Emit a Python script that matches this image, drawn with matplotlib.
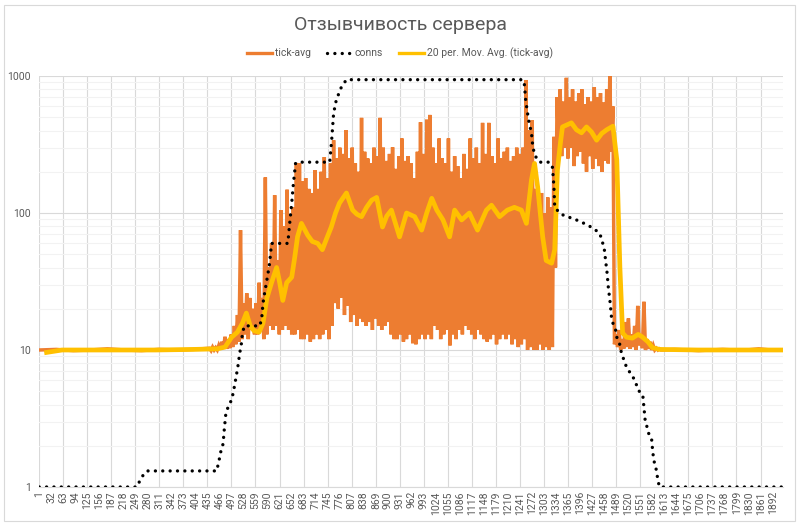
import numpy as np
import matplotlib
matplotlib.use("Agg")
import matplotlib.pyplot as plt
from matplotlib.ticker import FixedLocator, LogLocator, NullFormatter
from matplotlib.lines import Line2D
from matplotlib.patches import Rectangle

plt.rcParams['font.family'] = ['Roboto', 'DejaVu Sans']

# ---------------- data ----------------
n_points = 1918
title = "Отзывчивость сервера"
series_names = ["tick-avg", "conns", "20 per. Mov. Avg. (tick-avg)"]

# tick-avg: quiet part before the load (every 44 samples from 1)
tick_pre = [10.0, 10.1, 9.9, 10.0, 10.2, 10.0, 9.9, 10.1, 10.0, 10.1]
# tick-avg under load: peaks (every 8 samples from 440) and troughs (4 samples later)
tick_hi = [10.3, 10.5, 10.4, 10.8, 11.5,
           12.5, 12, 13, 15, 18,
           75, 22, 26, 24, 20,
           22, 31, 24, 182, 40,
           60, 135, 45, 105, 80,
           148, 95, 110, 232, 230,
           170, 180, 150, 140, 205,
           150, 200, 256, 180, 230,
           340, 250, 300, 270, 403,
           250, 300, 230, 200, 495,
           280, 250, 230, 300, 260,
           495, 300, 240, 270, 302,
           210, 260, 350, 240, 260,
           230, 180, 280, 460, 270,
           480, 520, 300, 230, 350,
           250, 230, 350, 200, 260,
           220, 180, 270, 210, 350,
           250, 300, 230, 455, 270,
           455, 260, 230, 350, 250,
           280, 300, 240, 260, 300,
           270, 300, 935, 400, 475,
           150, 120, 140, 100, 130,
           110, 360, 700, 800, 650,
           970, 700, 800, 650, 750,
           800, 620, 700, 650, 830,
           700, 750, 640, 800, 1000,
           600, 13, 14, 12, 16,
           17, 13, 15, 21, 13,
           22.5, 12, 11.5, 10.8, 10.3,
           10.2]
tick_lo = [9.9, 10.0, 10.0, 10.1, 10.2,
           10.2, 10.3, 10.5, 11, 11.5,
           12, 13, 12, 14, 13,
           13, 14, 12, 13, 15,
           14, 15, 13, 14, 15,
           14, 13, 13, 14, 12,
           12, 13, 11.5, 12, 13,
           12, 13, 14, 12, 15,
           22, 20, 24, 18, 21,
           16, 18, 15, 17, 16,
           15, 16, 14, 17, 15,
           14, 15, 16, 13, 12,
           12, 13, 11.5, 12, 13,
           11.2, 11, 12, 13, 12,
           13, 12, 15, 14, 12,
           13, 14, 10.8, 13, 12,
           14, 13, 15, 14, 13,
           12, 14, 13, 12, 11.5,
           12, 13, 11, 12, 13,
           12, 13, 11, 12, 10.5,
           11, 12, 10, 10.5, 10,
           10, 11, 10, 10.5, 10,
           10.5, 40, 300, 260, 300,
           250, 300, 220, 260, 280,
           230, 200, 260, 210, 250,
           220, 200, 240, 230, 280,
           11, 10.5, 10, 10.2, 10.5,
           10.2, 10.5, 10, 10.8, 10.3,
           10, 10.2, 10, 10, 10,
           10]
# tick-avg after the load (every 31 samples from 1608)
tick_post = [10.0, 10.1, 10.0, 9.9, 10.0, 10.1, 10.0, 10.0, 10.2, 10.0, 10.0]

# conns: sample number and value
conns_idx = [1, 253, 261, 269, 279, 459, 462, 466, 470, 475, 478, 482, 490, 497, 502,
             507, 513, 518, 522, 525, 530, 570, 575, 578, 583, 590, 595, 600, 642,
             646, 652, 656, 662, 672, 750, 755, 760, 767, 780, 793, 1248, 1252, 1255,
             1260, 1264, 1270, 1273, 1278, 1291, 1317, 1324, 1326, 1328, 1329, 1330,
             1343, 1356, 1373, 1399, 1412, 1428, 1446, 1452, 1458, 1462, 1465, 1468,
             1473, 1477, 1487, 1490, 1497, 1502, 1515, 1537, 1545, 1557, 1563, 1575,
             1580, 1583, 1587, 1592, 1596, 1600, 1918]
conns_val = [1, 1, 1.12, 1.22, 1.31, 1.31, 1.45, 1.63, 1.86, 2.06, 2.6, 3.4, 4.0, 4.3, 5.0,
             6.0, 7.5, 9.5, 11, 13.3, 15, 15, 17.5, 22, 27, 35, 43, 60, 60,
             80, 118, 160, 232, 235, 235, 340, 535, 670, 830, 940, 940, 860, 670,
             535, 455, 385, 315, 265, 235, 235, 216, 185, 155, 130, 110,
             100, 95, 92, 86, 82, 78, 71, 63, 54, 43, 36.5, 29,
             22, 16.5, 14, 12.4, 11.2, 9.5, 7.5, 6, 5.1, 4.7, 3.1, 2.3,
             2.2, 1.77, 1.5, 1.33, 1.12, 1, 1]

# 20-period moving average of tick-avg
ma_idx = [20, 40, 60, 100, 200, 300, 400, 460, 480, 497, 512, 525, 535, 545, 555, 568,
          578, 588, 600, 613, 621, 629, 639, 652, 660, 667, 677, 693, 705, 719, 731,
          742, 754, 765, 775, 793, 809, 820, 832, 845, 858, 871, 886, 897, 909, 930,
          948, 969, 987, 1000, 1013, 1026, 1042, 1059, 1072, 1090, 1110, 1131, 1154,
          1167, 1188, 1208, 1226, 1244, 1257, 1270, 1278, 1286, 1299, 1308, 1322,
          1330, 1337, 1345, 1350, 1373, 1386, 1399, 1412, 1425, 1438, 1451, 1464,
          1480, 1490, 1498, 1505, 1515, 1530, 1545, 1555, 1570, 1582, 1600, 1700,
          1800, 1918]
ma_val = [9.6, 9.8, 10.0, 10.0, 10.0, 10.0, 10.1, 10.2, 10.5, 12.4, 13.5, 15.7, 18.6, 15,
          13.8, 13.5, 15.7, 24, 31, 40, 31, 23, 31, 34, 48, 67, 84, 69, 62, 60, 54,
          65, 79, 100, 118, 140, 105, 98, 94, 110, 124, 130, 79, 95, 105, 67,
          100, 94, 75, 100, 128, 105, 89, 67, 105, 89, 100, 75, 105,
          114, 94, 105, 110, 105, 84, 174, 230, 155, 67, 45, 43,
          54, 206, 330, 425, 455, 405, 385, 425, 390, 340, 380, 405,
          430, 245, 40, 13.3, 12.4, 12.2, 13, 12.5, 11.5, 10.4, 10.1, 10.0,
          10.0, 10.0]

x_labels = [str(v) for v in range(1, 1893, 31)]

# ---------------- build tick-avg series ----------------
pre_x = 1 + 44 * np.arange(len(tick_pre))
main_hi_x = 440 + 8 * np.arange(len(tick_hi))
main_lo_x = main_hi_x + 4
post_x = 1608 + 31 * np.arange(len(tick_post))
main_x = np.empty(2 * len(tick_hi))
main_y = np.empty(2 * len(tick_hi))
main_x[0::2], main_x[1::2] = main_hi_x, main_lo_x
main_y[0::2], main_y[1::2] = tick_hi, tick_lo
tick_x = np.concatenate([pre_x, main_x, post_x])
tick_y = np.concatenate([tick_pre, main_y, tick_post])

# ---------------- figure ----------------
orange = '#ED7D31'
yellow = '#FFC000'
txt = '#595959'

fig = plt.figure(figsize=(8, 5.26), dpi=100)
fig.patches.append(Rectangle((4 / 800, 5 / 526), 791 / 800, 516 / 526, transform=fig.transFigure,
                             fill=False, edgecolor='#D9D9D9', linewidth=0.8))
ax = fig.add_axes([39 / 800, 1 - 487 / 526, 744 / 800, 411 / 526])

ax.plot(tick_x, tick_y, color=orange, lw=2.5, solid_joinstyle='miter', zorder=3)
ax.plot(ma_idx, ma_val, color=yellow, lw=3.4, solid_joinstyle='round', zorder=4)
ax.plot(conns_idx, conns_val, color='black', lw=2.4, linestyle=(0, (0.01, 2.2)),
        dash_capstyle='round', zorder=5)

ax.set_yscale('log')
ax.set_ylim(1, 1000)
ax.set_xlim(0.5, n_points + 0.5)

ax.xaxis.set_major_locator(FixedLocator(range(1, 1893, 31)))
ax.set_xticklabels(x_labels, rotation=90, fontsize=7.5, color=txt)
ax.xaxis.set_minor_locator(FixedLocator(np.arange(0.5, n_points, 62)))
ax.tick_params(axis='x', which='both', length=0, pad=3)
ax.yaxis.set_major_locator(FixedLocator([1, 10, 100, 1000]))
ax.set_yticklabels(['1', '10', '100', '1000'], fontsize=7.5, color=txt)
ax.yaxis.set_minor_locator(LogLocator(base=10, subs=np.arange(2, 10)))
ax.yaxis.set_minor_formatter(NullFormatter())
ax.tick_params(axis='y', which='both', length=0, pad=6)

ax.grid(which='minor', axis='x', color='#D9D9D9', lw=0.8)
ax.grid(which='major', axis='y', color='#D9D9D9', lw=0.8)
ax.grid(which='minor', axis='y', color='#F2F2F2', lw=0.8)
ax.set_axisbelow(True)
for s in ['left', 'right', 'top']:
    ax.spines[s].set_visible(False)
ax.spines['bottom'].set_color('#D9D9D9')
ax.spines['bottom'].set_linewidth(0.8)

fig.text(0.5, 1 - 25 / 526, title, ha='center', va='center', fontsize=14,
         color=txt, fontweight='normal')

handles = [Line2D([], [], color=orange, lw=2.4),
           Line2D([], [], color='black', lw=2.4, linestyle=(0, (0.01, 2.2)), dash_capstyle='round'),
           Line2D([], [], color=yellow, lw=2.4)]
leg = fig.legend(handles, series_names, loc='center', bbox_to_anchor=(0.5, 1 - 53 / 526),
                 ncol=3, frameon=False, fontsize=7.5, handlelength=2.4, handletextpad=0.3,
                 columnspacing=1.5)
for t in leg.get_texts():
    t.set_color(txt)

fig.savefig('out.png', dpi=100)
